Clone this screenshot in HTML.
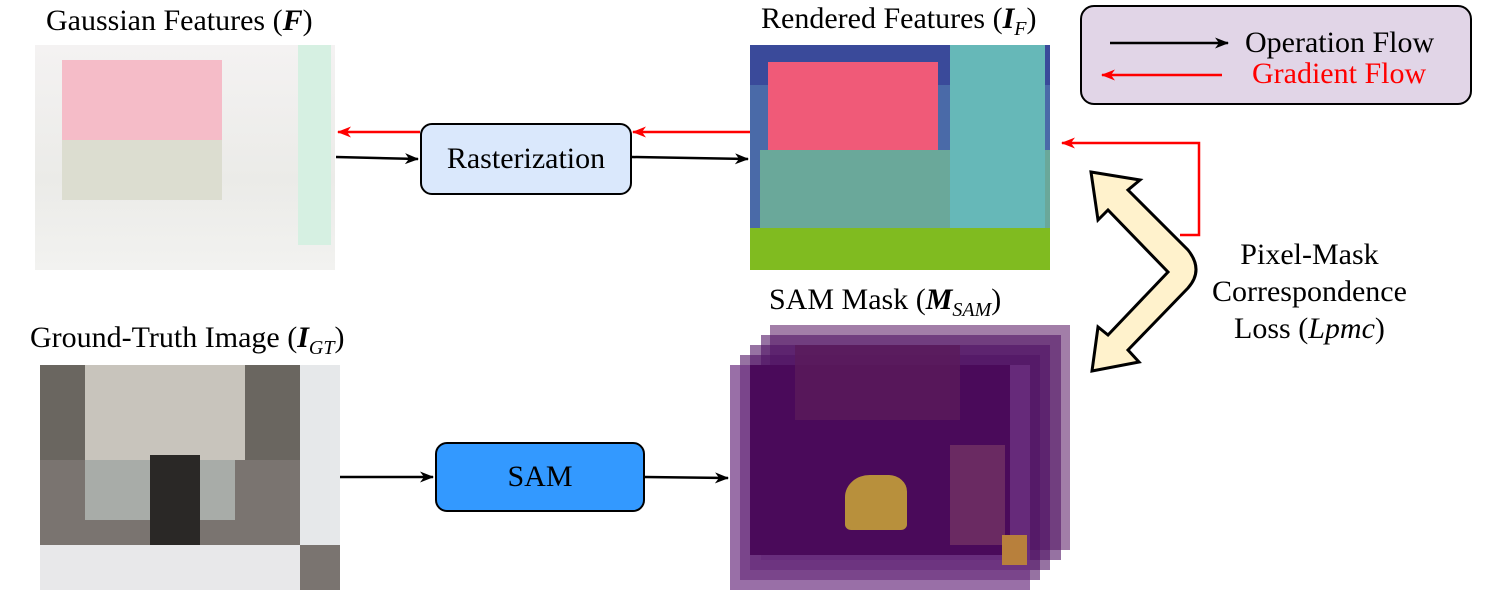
<!DOCTYPE html>
<html><head><meta charset="utf-8"><style>
body{margin:0;background:#fff;width:1500px;height:590px;overflow:hidden;position:relative;font-family:"Liberation Serif",serif;}
.t{position:absolute;font-size:30px;color:#000;white-space:nowrap}
sub{font-size:20px;font-weight:normal}
.box{position:absolute;border:2.5px solid #000;border-radius:12px;display:flex;align-items:center;justify-content:center;font-size:30px;box-sizing:border-box}
</style></head><body>
<div class="t" style="left:46px;top:4px">Gaussian Features (<b><i>F</i></b>)</div>
<div class="t" style="left:761px;top:2px">Rendered Features (<b><i>I</i></b><sub><i>F</i></sub>)</div>
<div class="t" style="left:769px;top:283px">SAM Mask (<b><i>M</i></b><sub><i>SAM</i></sub>)</div>
<div class="t" style="left:30px;top:321px">Ground-Truth Image (<b><i>I</i></b><sub><i>GT</i></sub>)</div>
<div class="t" style="left:1212px;top:236px;text-align:center;line-height:37px">Pixel-Mask<br>Correspondence<br>Loss (<i>Lpmc</i>)</div>

<!-- gaussian features image -->
<div style="position:absolute;left:35px;top:45px;width:300px;height:225px;background:linear-gradient(180deg,#f4f2f2,#ebebe8 60%,#f2f2f0)"></div>
<div style="position:absolute;left:62px;top:60px;width:160px;height:80px;background:#f5bcc8"></div>
<div style="position:absolute;left:62px;top:140px;width:160px;height:60px;background:#dcddd0"></div>
<div style="position:absolute;left:298px;top:45px;width:33px;height:200px;background:#d6f0e2"></div>

<!-- rendered features -->
<div style="position:absolute;left:750px;top:45px;width:300px;height:225px;background:#4a6aa8"></div>
<div style="position:absolute;left:750px;top:45px;width:300px;height:40px;background:#3a4a9a"></div>
<div style="position:absolute;left:768px;top:62px;width:170px;height:88px;background:#f05a78"></div>
<div style="position:absolute;left:760px;top:150px;width:290px;height:85px;background:#6aa89a"></div>
<div style="position:absolute;left:950px;top:45px;width:95px;height:200px;background:#66b8b8"></div>
<div style="position:absolute;left:750px;top:228px;width:300px;height:42px;background:#80bb20"></div>

<!-- GT image -->
<div style="position:absolute;left:40px;top:365px;width:300px;height:225px;background:#7a7470"></div>
<div style="position:absolute;left:40px;top:365px;width:300px;height:95px;background:#6a6660"></div>
<div style="position:absolute;left:85px;top:365px;width:160px;height:95px;background:#c8c4bc"></div>
<div style="position:absolute;left:300px;top:365px;width:40px;height:180px;background:#e6e8ea"></div>
<div style="position:absolute;left:85px;top:460px;width:150px;height:60px;background:#a8aca8"></div>
<div style="position:absolute;left:40px;top:545px;width:260px;height:45px;background:#e8e8ea"></div>
<div style="position:absolute;left:150px;top:455px;width:50px;height:90px;background:#2a2826"></div>

<!-- SAM stack -->
<div style="position:absolute;left:770px;top:325px;width:300px;height:225px;background:rgba(100,40,110,0.6)"></div>
<div style="position:absolute;left:761px;top:335px;width:300px;height:225px;background:rgba(80,20,100,0.6)"></div>
<div style="position:absolute;left:750px;top:345px;width:300px;height:225px;background:rgba(80,20,100,0.6)"></div>
<div style="position:absolute;left:740px;top:355px;width:300px;height:225px;background:rgba(80,20,100,0.6)"></div>
<div style="position:absolute;left:730px;top:365px;width:300px;height:225px;background:rgba(110,50,130,0.7)"></div>
<div style="position:absolute;left:750px;top:365px;width:260px;height:190px;background:#4a0a5a"></div>
<div style="position:absolute;left:795px;top:345px;width:165px;height:75px;background:#5a1a5a;opacity:.8"></div>
<div style="position:absolute;left:845px;top:475px;width:62px;height:55px;background:#b8903c;border-radius:40% 30% 10% 10%"></div>
<div style="position:absolute;left:950px;top:445px;width:55px;height:100px;background:#6a2a62"></div>
<div style="position:absolute;left:1002px;top:535px;width:25px;height:30px;background:#b8803c"></div>

<!-- boxes -->
<div class="box" style="left:420px;top:123px;width:212px;height:72px;background:#dae8fc">Rasterization</div>
<div class="box" style="left:435px;top:442px;width:210px;height:70px;background:#3399ff">SAM</div>
<div class="box" style="left:1080px;top:5px;width:392px;height:100px;background:#e1d5e7;border-radius:14px"></div>
<div class="t" style="left:1245px;top:26px">Operation Flow</div>
<div class="t" style="left:1252px;top:57px;color:#ff0000">Gradient Flow</div>

<svg width="1500" height="590" style="position:absolute;left:0;top:0">
<defs>
<marker id="k" markerWidth="14" markerHeight="11" refX="13" refY="5.5" orient="auto" markerUnits="userSpaceOnUse"><path d="M0,0L14,5.5L0,11L4,5.5Z" fill="#000"/></marker>
<marker id="r" markerWidth="14" markerHeight="11" refX="13" refY="5.5" orient="auto" markerUnits="userSpaceOnUse"><path d="M0,0L14,5.5L0,11L4,5.5Z" fill="#f00"/></marker>
</defs>
<g stroke-width="2.5" fill="none">
<path d="M336,157 L418,159" stroke="#000" marker-end="url(#k)"/>
<path d="M632,157 L748,159" stroke="#000" marker-end="url(#k)"/>
<path d="M420,132 L338,132" stroke="#f00" marker-end="url(#r)"/>
<path d="M750,132 L633,132" stroke="#f00" marker-end="url(#r)"/>
<path d="M340,477 L433,477" stroke="#000" marker-end="url(#k)"/>
<path d="M645,477 L728,478" stroke="#000" marker-end="url(#k)"/>
<path d="M1110,43 L1228,43" stroke="#000" marker-end="url(#k)"/>
<path d="M1222,75 L1102,75" stroke="#f00" marker-end="url(#r)"/>
<path d="M1180,235 L1199,235 L1199,143 L1062,143" stroke="#f00" marker-end="url(#r)"/>
</g>
<path d="M1091,172 L1140,180 L1128,190 L1188,250 Q1204,270 1188,288 L1128,350 L1139,362 L1092,371 L1098,327 L1108,335 L1168,272 L1108,210 L1098,220 Z" fill="#fff2cc" stroke="#000" stroke-width="3" stroke-linejoin="miter"/>
</svg>
</body></html>
